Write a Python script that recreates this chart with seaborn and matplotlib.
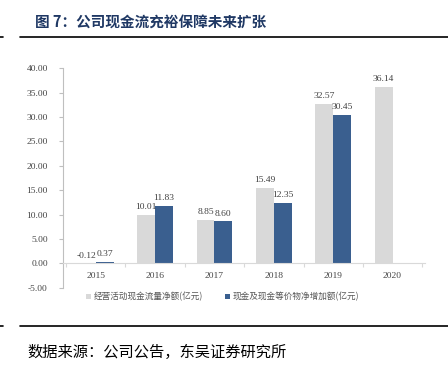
import numpy as np
import pandas as pd
import seaborn as sns
import matplotlib.pyplot as plt

years = ['2015', '2016', '2017', '2018', '2019', '2020']
operating_cf = [-0.12, 10.01, 8.85, 15.49, 32.57, 36.14]
cash_increase = [0.37, 11.83, 8.60, 12.35, 30.45, np.nan]
series_names = ['经营活动现金流量净额(亿元)', '现金及现金等价物净增加额(亿元)']

df = pd.DataFrame({
    'year': years * 2,
    'value': operating_cf + cash_increase,
    'series': [series_names[0]] * 6 + [series_names[1]] * 6,
})

sns.set_style('white')
plt.rcParams['font.family'] = ['Noto Sans CJK SC', 'DejaVu Sans']

fig = plt.figure(figsize=(4.48, 3.70), dpi=100)
ax = fig.add_axes([0.141, 0.222, 0.808, 0.594])

palette = ['#d9d9d9', '#3a5f8f']
sns.barplot(data=df, x='year', y='value', hue='series', palette=palette,
            width=0.6, ax=ax, saturation=1, linewidth=0, legend=True)

# spine position first: moving it resets the tick objects
for s in ['top', 'right']:
    ax.spines[s].set_visible(False)
ax.spines['bottom'].set_position(('data', 0))
ax.spines['left'].set_color('#bfbfbf')
ax.spines['left'].set_linewidth(0.8)
ax.spines['bottom'].set_color('#d9d9d9')
ax.spines['bottom'].set_linewidth(0.8)

ticks = np.arange(-5, 41, 5)
ax.set_ylim(-5, 40)
ax.set_yticks(ticks)
ax.set_yticklabels([f'{v:.2f}' for v in ticks])
ax.set_xlim(-0.55, 5.55)
ax.set_xticks(range(len(years)))
ax.set_xticklabels(years)
ax.set_xticks(np.arange(-0.5, 6, 1), minor=True)
ax.set_xlabel('')
ax.set_ylabel('')

ax.tick_params(axis='both', labelsize=6.8, labelcolor='#444444')
for lab in ax.get_xticklabels() + ax.get_yticklabels():
    lab.set_fontfamily('Liberation Serif')
ax.tick_params(axis='y', left=True, length=3, color='#bfbfbf', width=0.8, pad=8)
ax.tick_params(axis='x', which='major', bottom=False, pad=3)
ax.tick_params(axis='x', which='minor', bottom=True, length=3, color='#d9d9d9', width=0.8)

for container in ax.containers:
    for bar in container:
        h = bar.get_height()
        if np.isnan(h):
            continue
        ax.text(bar.get_x() + bar.get_width() / 2, max(h, 0) + 0.8, f'{h:.2f}',
                ha='center', va='bottom', fontsize=6.8,
                fontfamily='Liberation Serif', color='#404040')

leg = ax.legend(loc='center', bbox_to_anchor=(0.44, -0.04), ncol=2,
                frameon=False, fontsize=6.2, handlelength=0.6, handleheight=0.6,
                columnspacing=2.5, handletextpad=0.3)
for t in leg.get_texts():
    t.set_color('#555555')

fig.text(0.078, 0.94, '图 7：公司现金流充裕保障未来扩张', fontsize=10.5,
         fontweight='bold', color='#1f3864', va='center')
fig.add_artist(plt.Line2D([0.045, 1.0], [0.90, 0.90], color='black', lw=1.2))
fig.add_artist(plt.Line2D([0.0, 0.006], [0.90, 0.90], color='black', lw=1.2))
fig.add_artist(plt.Line2D([0.045, 1.0], [0.118, 0.118], color='black', lw=1.2))
fig.add_artist(plt.Line2D([0.0, 0.006], [0.118, 0.118], color='black', lw=1.2))
fig.text(0.062, 0.048, '数据来源：公司公告，东吴证券研究所', fontsize=11,
         color='black', va='center')

fig.savefig('out.png', dpi=100)
